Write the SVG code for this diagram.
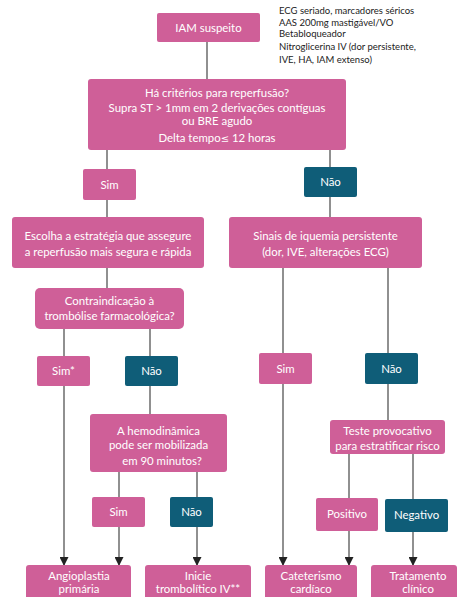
<svg xmlns="http://www.w3.org/2000/svg" width="459" height="597" viewBox="0 0 459 597">
<style>
.p{fill:#cf5f98;}
.t{fill:#0f5d78;}
text{font-family:Lato,"Open Sans","DejaVu Sans",sans-serif;font-size:11.4px;fill:#ffffff;text-anchor:middle;}
.note{fill:#222222;font-size:9.5px;text-anchor:start;}
.sym{font-family:"DejaVu Sans",sans-serif;font-size:10px;}
.c line{stroke:#6b6b6b;stroke-width:1.5;}
</style>
<defs>
<marker id="arr" markerWidth="9" markerHeight="9" refX="8" refY="4.5" orient="auto" markerUnits="userSpaceOnUse">
<path d="M0,0 L9,4.5 L0,9 Z" fill="#222222"/>
</marker>
</defs>
<rect width="459" height="597" fill="#ffffff"/>
<g class="c" id="connectors">
<line x1="207" y1="42" x2="207" y2="80"/>
<line x1="107" y1="150" x2="107" y2="169"/>
<line x1="330" y1="150" x2="330" y2="167"/>
<line x1="107" y1="200" x2="107" y2="217"/>
<line x1="330" y1="197" x2="330" y2="217"/>
<line x1="107" y1="268" x2="107" y2="288"/>
<line x1="64" y1="329" x2="64" y2="356"/>
<line x1="150" y1="329" x2="150" y2="356"/>
<line x1="283" y1="268" x2="283" y2="353"/>
<line x1="388" y1="268" x2="388" y2="353"/>
<line x1="150" y1="386" x2="150" y2="414"/>
<line x1="388" y1="384" x2="388" y2="420"/>
<line x1="119" y1="472" x2="119" y2="497"/>
<line x1="197" y1="472" x2="197" y2="497"/>
<line x1="349" y1="454" x2="349" y2="498"/>
<line x1="413" y1="454" x2="413" y2="499"/>
<line x1="64" y1="386" x2="64" y2="565" marker-end="url(#arr)"/>
<line x1="119" y1="527" x2="119" y2="565" marker-end="url(#arr)"/>
<line x1="197" y1="527" x2="197" y2="565" marker-end="url(#arr)"/>
<line x1="283" y1="384" x2="283" y2="565" marker-end="url(#arr)"/>
<line x1="349" y1="531" x2="349" y2="565" marker-end="url(#arr)"/>
<line x1="413" y1="532" x2="413" y2="565" marker-end="url(#arr)"/>
</g>
<g id="iam">
<rect class="p" x="157" y="13" width="103" height="29" rx="2"/>
<text x="208.5" y="32">IAM suspeito</text>
</g>
<g id="note">
<text class="note" x="279" y="14">ECG seriado, marcadores séricos</text>
<text class="note" x="279" y="26">AAS 200mg mastigável/VO</text>
<text class="note" x="279" y="37">Betabloqueador</text>
<text class="note" x="279" y="50">Nitroglicerina IV (dor persistente,</text>
<text class="note" x="279" y="63">IVE, HA, IAM extenso)</text>
</g>
<g id="criterios">
<rect class="p" x="88" y="79" width="258" height="71" rx="3"/>
<text x="217" y="97">Há critérios para reperfusão?</text>
<text x="217" y="112">Supra ST &gt;  1mm em 2 derivações contíguas</text>
<text x="217" y="125">ou BRE  agudo</text>
<text x="217" y="142">Delta tempo<tspan class="sym">≤</tspan>  12 horas</text>
</g>
<g id="sim1">
<rect class="p" x="83" y="169" width="53" height="31" rx="2"/>
<text x="109.5" y="189">Sim</text>
</g>
<g id="nao1">
<rect class="t" x="304" y="167" width="53" height="30" rx="2"/>
<text x="330.5" y="186">Não</text>
</g>
<g id="escolha">
<rect class="p" x="12" y="217" width="192" height="51" rx="3"/>
<text x="108" y="240">Escolha a estratégia que assegure</text>
<text x="108" y="256">a reperfusão mais segura e rápida</text>
</g>
<g id="sinais">
<rect class="p" x="229" y="217" width="193" height="51" rx="3"/>
<text x="325.5" y="240">Sinais de iquemia persistente</text>
<text x="325.5" y="256">(dor, IVE, alterações ECG)</text>
</g>
<g id="contra">
<rect class="p" x="35" y="288" width="149" height="41" rx="5"/>
<text x="109.5" y="305">Contraindicação à</text>
<text x="109.5" y="320">trombólise farmacológica?</text>
</g>
<g id="simstar">
<rect class="p" x="37" y="356" width="53" height="30" rx="2"/>
<text x="63.5" y="375">Sim*</text>
</g>
<g id="nao2">
<rect class="t" x="125" y="356" width="53" height="30" rx="2"/>
<text x="151.5" y="375">Não</text>
</g>
<g id="sim3">
<rect class="p" x="259" y="353" width="53" height="31" rx="2"/>
<text x="285.5" y="373">Sim</text>
</g>
<g id="nao3">
<rect class="t" x="365" y="353" width="53" height="31" rx="2"/>
<text x="391.5" y="373">Não</text>
</g>
<g id="hemo">
<rect class="p" x="90" y="414" width="137" height="58" rx="3"/>
<text x="158.5" y="435">A hemodinâmica</text>
<text x="158.5" y="449">pode ser mobilizada</text>
<text x="162" y="465">em 90 minutos?</text>
</g>
<g id="teste">
<rect class="p" x="330" y="420" width="115" height="34" rx="3"/>
<text x="387.5" y="435">Teste provocativo</text>
<text x="387.5" y="450">para estratificar risco</text>
</g>
<g id="sim4">
<rect class="p" x="92" y="497" width="53" height="30" rx="2"/>
<text x="118.5" y="516">Sim</text>
</g>
<g id="nao4">
<rect class="t" x="170" y="497" width="43" height="30" rx="2"/>
<text x="191.5" y="516">Não</text>
</g>
<g id="positivo">
<rect class="p" x="316" y="498" width="62" height="33" rx="2"/>
<text x="347" y="518">Positivo</text>
</g>
<g id="negativo">
<rect class="t" x="385" y="499" width="63" height="33" rx="2"/>
<text x="416.5" y="519">Negativo</text>
</g>
<g id="angio">
<rect class="p" x="26" y="565" width="105" height="40" rx="3"/>
<text x="79" y="580">Angioplastia</text>
<text x="79" y="593">primária</text>
</g>
<g id="inicie">
<rect class="p" x="145" y="565" width="106" height="40" rx="3"/>
<text x="198" y="580">Inicie</text>
<text x="198" y="593">trombolítico IV**</text>
</g>
<g id="cat">
<rect class="p" x="265" y="565" width="92" height="40" rx="3"/>
<text x="311" y="580">Cateterismo</text>
<text x="311" y="593">cardíaco</text>
</g>
<g id="trat">
<rect class="p" x="371" y="565" width="86" height="40" rx="3"/>
<text x="418" y="580">Tratamento</text>
<text x="418" y="593">clínico</text>
</g>
</svg>
